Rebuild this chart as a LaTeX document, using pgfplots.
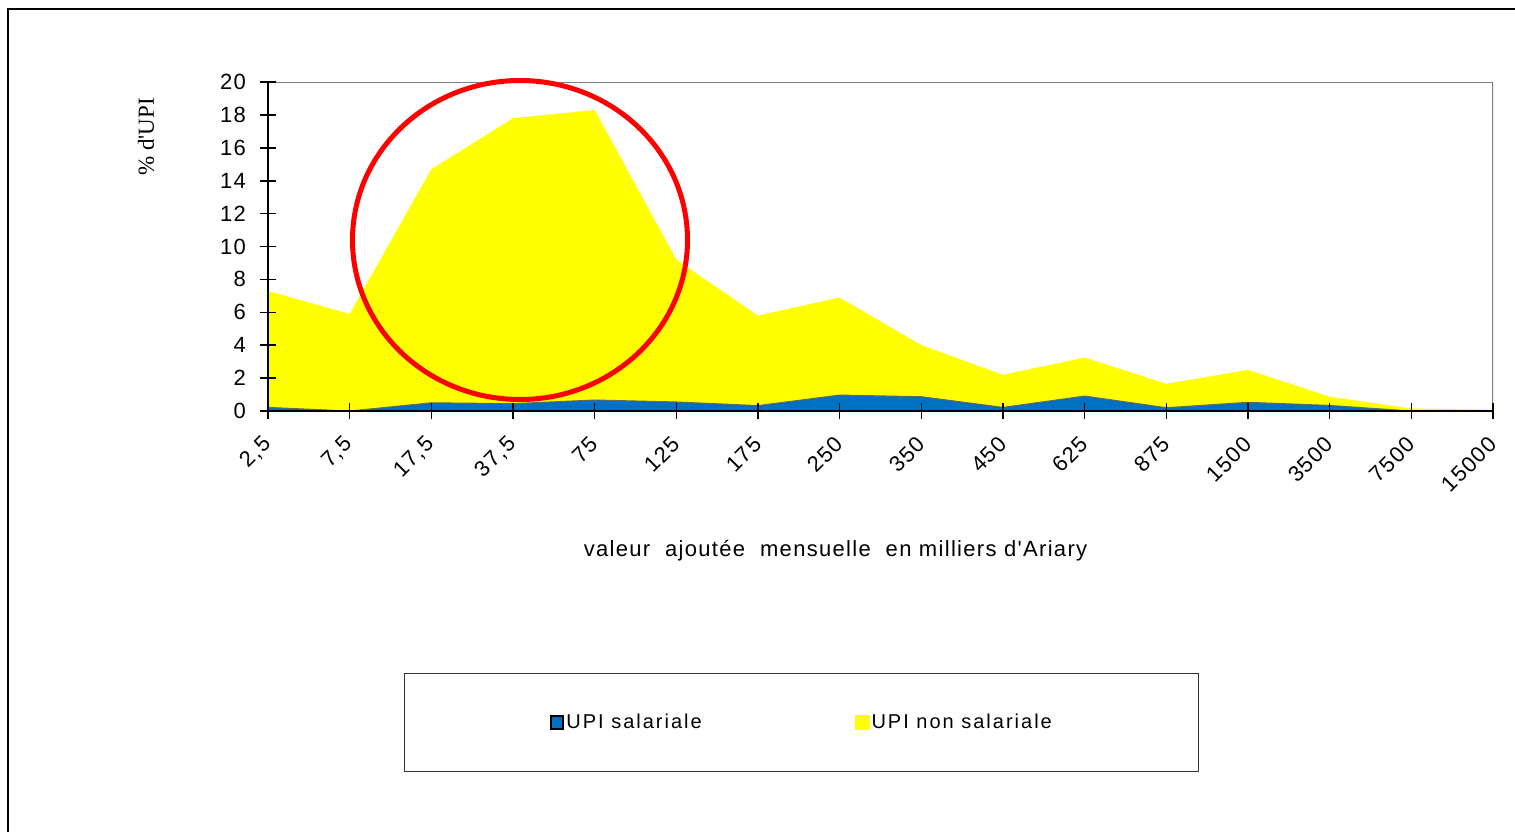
\documentclass[border=0pt]{standalone}
\usepackage{pgfplots}
\pgfplotsset{compat=1.18}
\usepackage{fontspec}
\setmainfont{Liberation Sans}
\newfontfamily\chartfont[LetterSpace=6]{Liberation Sans}
\newfontfamily\legendfont[LetterSpace=10]{Liberation Sans}
\newfontfamily\seriffont{Liberation Serif}
\definecolor{bleu}{RGB}{0,112,192}
\definecolor{jaune}{RGB}{255,255,0}
\definecolor{cadre}{RGB}{128,128,128}
\begin{document}
\begin{tikzpicture}[x=1pt,y=1pt]
\path[use as bounding box] (0,0) rectangle (757.5,-415.5);
\draw[line width=1pt] (4,-416) -- (4,-4.5) -- (758,-4.5);
\begin{axis}[
  at={(134pt,-205.5pt)}, anchor=south west,
  scale only axis, width=612.5pt, height=164.5pt,
  xmin=0, xmax=15, ymin=0, ymax=20,
  axis x line*=bottom, axis y line*=left,
  axis line style={-, black},
  x axis line style={line width=1.4pt},
  y axis line style={line width=1pt},
  axis on top,
  xtick={0,...,15},
  xticklabels={{2,5},{7,5},{17,5},{37,5},75,125,175,250,350,450,625,875,1500,3500,7500,15000},
  ytick={0,2,...,20},
  xtick pos=bottom, ytick pos=left,
  tick align=center,
  major tick length=8pt,
  tick style={black, line width=0.8pt},
  /pgf/number format/assume math mode=true,
  xticklabel style={xshift=2.3pt, yshift=-8.4pt, rotate=45, anchor=east, font=\chartfont\fontsize{11}{12}\selectfont},
  yticklabel style={xshift=-3.5pt, font=\chartfont\fontsize{11}{12}\selectfont},
  legend columns=2,
  reverse legend,
  legend style={at={(0.4357,-0.9468)}, anchor=center, draw=black!80, line width=0.6pt,
    inner xsep=72.5pt, inner ysep=18pt, font=\legendfont\fontsize{10}{11}\selectfont,
    nodes={inner xsep=1pt},
    /tikz/every even column/.append style={column sep=75.5pt}},
  legend cell align=left,
]
\addplot[fill=jaune, draw=none,
  legend image code/.code={\fill[jaune] (0pt,-3.6pt) rectangle (7.4pt,3.6pt);}] coordinates {
(0,7.3) (1,5.9) (2,14.7) (3,17.8) (4,18.3) (5,9.2) (6,5.8) (7,6.9)
(8,4.0) (9,2.2) (10,3.25) (11,1.65) (12,2.5) (13,0.87) (14,0.15) (15,0.08)
} \closedcycle;
\addlegendentry{UPI non salariale}
\addplot[fill=bleu, draw=black!60, line width=0.5pt,
  legend image code/.code={\draw[fill=bleu, draw=black, line width=1pt] (0.5pt,-3.1pt) rectangle (6.9pt,3.1pt);}] coordinates {
(0,0.22) (1,0) (2,0.5) (3,0.45) (4,0.67) (5,0.55) (6,0.33) (7,0.97)
(8,0.87) (9,0.22) (10,0.91) (11,0.2) (12,0.53) (13,0.34) (14,0) (15,0)
} \closedcycle;
\addlegendentry{UPI salariale}
\draw[cadre, line width=1pt] (axis cs:0,20) -- (axis cs:15,20) -- (axis cs:15,0);
\end{axis}
\node[rotate=90, font=\seriffont\fontsize{11.5}{12}\selectfont] at (73,-68.5) {\% d'UPI};
\node[font=\chartfont\fontsize{11}{12}\selectfont] at (417.75,-275.5) {valeur\ \ ajoutée\ \ mensuelle\ \ en milliers d'Ariary};
\draw[red, line width=2.5pt] (260,-120) ellipse (83.75pt and 79.75pt);
\end{tikzpicture}
\end{document}
